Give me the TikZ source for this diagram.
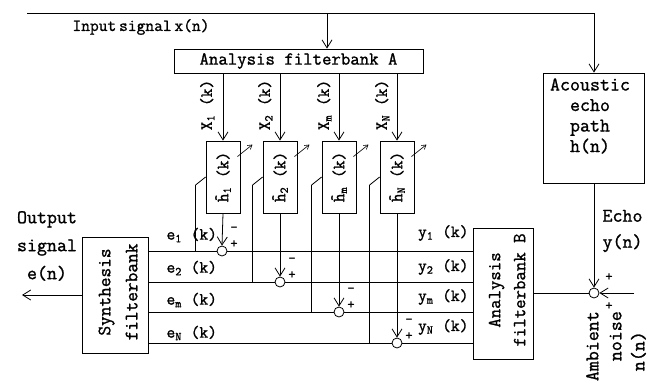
\documentclass[tikz,border=0pt]{standalone}
\usepackage{fontspec}
\newfontfamily\cour[FakeBold=1.2]{Latin Modern Mono}
\usetikzlibrary{arrows.meta,calc}
\begin{document}
\begin{tikzpicture}[x=1pt,y=-1pt,
  box/.style={draw,line width=0.8pt,inner sep=0pt},
  ln/.style={line width=0.8pt},
  arr/.style={ln,-{Straight Barb[length=8pt,width=10pt,line width=0.8pt]}},
  sarr/.style={line width=0.6pt,-{Straight Barb[length=4pt,width=5pt,line width=0.6pt]}},
  sum/.style={draw,circle,line width=0.8pt,minimum size=10pt,inner sep=0pt},
  fnt/.style 2 args={font=\fontsize{#1}{#2}\selectfont\cour},
  sgn/.style={font=\fontsize{14}{14}\selectfont\cour,inner sep=0pt}
]
\useasboundingbox (0,0) rectangle (660,391);

% boxes
\node[box,minimum width=249pt,minimum height=24pt,fnt={18.3}{20}] (A) at (298.5,61) {Analysis filterbank A};
\node[box,minimum width=34pt,minimum height=72pt] (H1) at (223,177) {};
\node[box,minimum width=34pt,minimum height=72pt] (H2) at (280,177) {};
\node[box,minimum width=34pt,minimum height=72pt] (H3) at (339,177) {};
\node[box,minimum width=34pt,minimum height=72pt] (H4) at (397,177) {};
\node[rotate=90,fnt={17}{17}] (h1t) at (H1) {\^{h}\textsubscript{1} (k)};
\node[rotate=90,fnt={17}{17}] (h2t) at (H2) {\^{h}\textsubscript{2} (k)};
\node[rotate=90,fnt={17}{17}] (h3t) at (H3) {\^{h}\textsubscript{m} (k)};
\node[rotate=90,fnt={17}{17}] (h4t) at (H4) {\^{h}\textsubscript{N} (k)};

\node[box,minimum width=66pt,minimum height=116pt] (Syn) at (115,295) {};
\node[rotate=90,align=center,fnt={18.8}{27}] (synt) at (118,292) {Synthesis\\filterbank};
\node[box,minimum width=60pt,minimum height=131pt] (B) at (503,293.5) {};
\node[rotate=90,align=center,fnt={18.3}{25}] (bt) at (507,290) {Analysis\\filterbank B};
\node[box,minimum width=101pt,minimum height=110pt] (E) at (594,128) {};
\node[align=center,fnt={19.4}{20.5}] (et) at (590,116) {Acoustic\\echo\\path\\h(n)};

% summing junctions
\node[sum] (S1) at (222,251) {};
\node[sum] (S2) at (280,282) {};
\node[sum] (S3) at (339,312) {};
\node[sum] (S4) at (397,343) {};
\node[sum] (SR) at (594,293) {};

\coordinate (in) at (27,13);
\coordinate (tap) at (327,13);
\coordinate (out) at (22,295);
\coordinate (nz) at (634,293);

% input distribution
\draw[arr] (in) -| (E.north);
\draw[arr] (tap) -- (tap |- A.north);
\foreach \k in {1,2,3,4}{
  \draw[arr] (A.south -| H\k) -- (H\k.north);
  \draw[arr] (H\k.south) -- (S\k.north);
  \draw[ln] (B.west |- S\k) -- (S\k.east);
  \draw[ln] (S\k.west) -- (Syn.east |- S\k);
  \draw[ln] (H\k.west) -- ++(-10,8) coordinate (u\k);
  \draw[ln] (u\k) -- (u\k |- S\k);
  \draw[sarr] ($(H\k.north east)+(-3,16)$) -- ++(15,-12);
  \node[sgn] (m\k) at ($(S\k)+(12,-22)$) {-};
  \node[sgn] (p\k) at ($(S\k)+(12,-7)$) {+};
}
\draw[arr] (E.south) -- (SR.north);
\draw[arr] (nz) -- (SR.east);
\draw[ln] (SR.west) -- (B.east |- SR);
\draw[arr] (Syn.west |- out) -- (out);
\node[sgn] (pr1) at (609,277) {+};
\node[sgn] (pr2) at (609,306) {+};

% labels
\node[fnt={17}{17}] (inl) at (141,27) {Input\,signal\,x(n)};
\node[rotate=90,anchor=south,fnt={17}{17}] (x1) at (218,105) {X\textsubscript{1} (k)};
\node[rotate=90,anchor=south,fnt={17}{17}] (x2) at (276,105) {X\textsubscript{2} (k)};
\node[rotate=90,anchor=south,fnt={17}{17}] (x3) at (335,105) {X\textsubscript{m} (k)};
\node[rotate=90,anchor=south,fnt={17}{17}] (x4) at (393,105) {X\textsubscript{N} (k)};
\node[anchor=west,fnt={17}{17}] (e1) at (163,235) {e\textsubscript{1} (k)};
\node[anchor=west,fnt={17}{17}] (e2) at (163,268) {e\textsubscript{2} (k)};
\node[anchor=west,fnt={17}{17}] (e3) at (163,300) {e\textsubscript{m} (k)};
\node[anchor=west,fnt={17}{17}] (e4) at (163,333) {e\textsubscript{N} (k)};
\node[anchor=east,fnt={17}{17}] (y1) at (472,233) {y\textsubscript{1} (k)};
\node[anchor=east,fnt={17}{17}] (y2) at (472,267) {y\textsubscript{2} (k)};
\node[anchor=east,fnt={17}{17}] (y3) at (472,297) {y\textsubscript{m} (k)};
\node[anchor=east,fnt={17}{17}] (y4) at (472,327) {y\textsubscript{N} (k)};
\node[align=center,fnt={19.4}{28}] (outl) at (47,246) {Output\\signal\\e(n)};
\node[anchor=west,align=left,fnt={19.4}{26}] (echo) at (599,231) {Echo\\y(n)};
\node[rotate=90,anchor=north east,align=right,inner sep=0pt,fnt={19.4}{23}] (amb) at (586,311) {Ambient\\noise\\n(n)\hspace*{20pt}};
\end{tikzpicture}
\end{document}
